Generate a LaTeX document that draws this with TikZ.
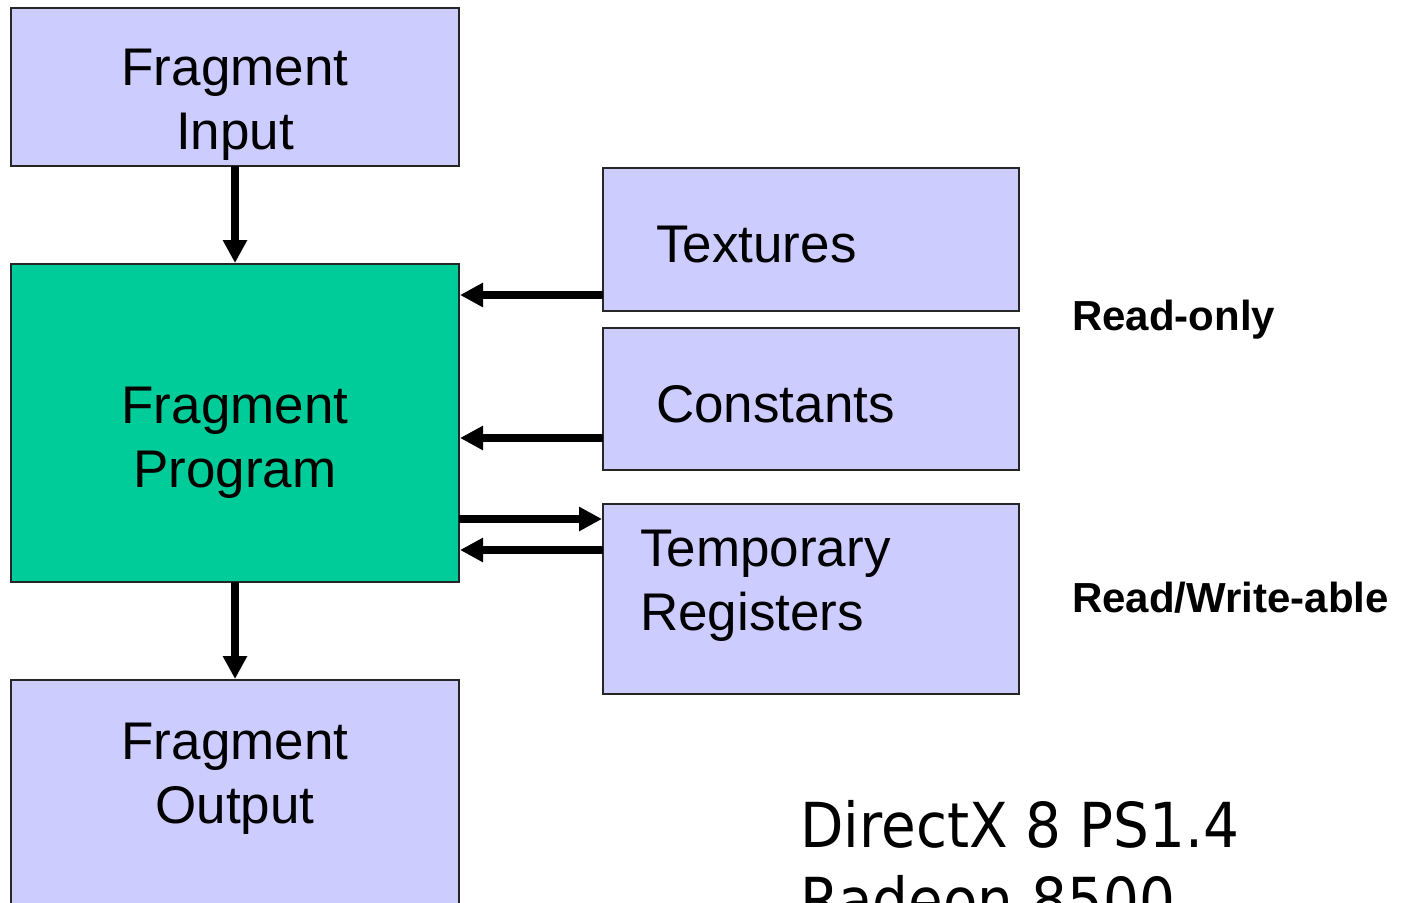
\documentclass[tikz,border=0pt]{standalone}
\usepackage{fontspec}
\setmainfont{Liberation Sans}
\newfontfamily\captionfont[FakeStretch=0.91]{DejaVu Sans}
\usetikzlibrary{arrows.meta}
\definecolor{boxblue}{HTML}{CCCCFF}
\definecolor{progreen}{HTML}{00CC99}
\begin{document}
\begin{tikzpicture}[x=1pt,y=-1pt,
  stage/.style={draw=black!85, line width=2.5pt, rectangle, anchor=north west,
    inner sep=0pt, outer sep=0pt, fill=boxblue},
  txt/.style={font=\fontsize{53}{64}\selectfont, inner sep=0pt},
  note/.style={font=\fontsize{42}{50}\selectfont\bfseries, inner sep=0pt, anchor=base west},
  arr/.style={line width=7.5pt, -{Triangle[length=23pt,width=23pt]}, shorten >=1pt}
]
\clip (0,0) rectangle (1405,902);
\fill[white] (0,0) rectangle (1405,902);

% main pipeline
\node[stage, minimum width=448pt, minimum height=158pt] (in) at (11,8) {};
\node[stage, fill=progreen, minimum width=448pt, minimum height=318pt] (prog) at (11,264) {};
\node[stage, minimum width=448pt, minimum height=300pt] (out) at (11,680) {};

% resources
\node[stage, minimum width=416pt, minimum height=143pt] (tex) at (603,168) {};
\node[stage, minimum width=416pt, minimum height=142pt] (const) at (603,328) {};
\node[stage, minimum width=416pt, minimum height=190pt] (temp) at (603,504) {};

% labels (base anchor sits on the last line)
\node[txt, align=center, anchor=base] (inT) at (235,149) {Fragment\\Input};
\node[txt, align=center, anchor=base] (progT) at (235,487) {Fragment\\Program};
\node[txt, align=center, anchor=base] (outT) at (235,823) {Fragment\\Output};
\node[txt, anchor=base west] (texT) at (656,262) {Textures};
\node[txt, anchor=base west] (constT) at (656,422) {Constants};
\node[txt, align=left, anchor=base west] (tempT) at (640,630) {Temporary\\Registers};

\node[note] (ro) at (1072,330) {Read-only};
\node[note] (rw) at (1072,612) {Read/Write-able};

\node[font=\fontsize{62}{75}\selectfont\captionfont, inner sep=0pt, anchor=base west, align=left]
  (cap) at (800,922) {DirectX 8 PS1.4\\Radeon 8500};

% data flow
\draw[arr] (in.south) -- (prog.north);
\draw[arr] (prog.south) -- (out.north);
\draw[arr] (tex.west |- 0,295) -- (prog.east |- 0,295);
\draw[arr] (const.west |- 0,438) -- (prog.east |- 0,438);
\draw[arr] (prog.east |- 0,519) -- (temp.west |- 0,519);
\draw[arr] (temp.west |- 0,550) -- (prog.east |- 0,550);
\end{tikzpicture}
\end{document}
